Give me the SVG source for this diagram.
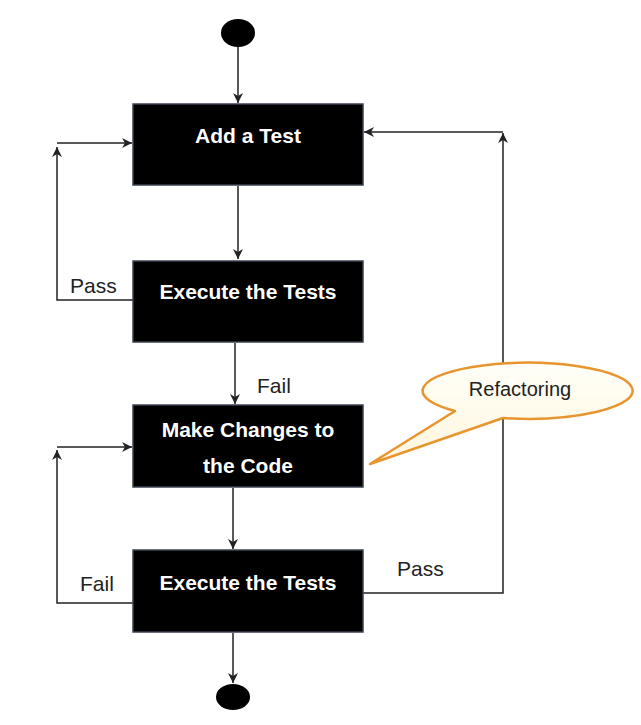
<svg xmlns="http://www.w3.org/2000/svg" width="641" height="725" viewBox="0 0 641 725">
<defs>
<style>
.box{fill:#000;stroke:#3c4250;stroke-width:1.5}
.bt{fill:#fff;font-family:"Liberation Sans",Arial,sans-serif;font-weight:bold;font-size:21px;text-anchor:middle}
.lbl{fill:#222;font-family:"Liberation Sans",Arial,sans-serif;font-size:21px}
.ln{fill:none;stroke:#222;stroke-width:1.5}
</style>
<marker id="ah" viewBox="0 0 10 10" refX="10" refY="5" markerWidth="10" markerHeight="10" markerUnits="userSpaceOnUse" orient="auto">
<path d="M0,0 L10,5 L0,10 L3,5 Z" fill="#222"/>
</marker>
<linearGradient id="cg" x1="0" y1="0" x2="0" y2="1">
<stop offset="0" stop-color="#fffff8"/>
<stop offset="1" stop-color="#fff6de"/>
</linearGradient>
</defs>
<rect width="641" height="725" fill="#fff"/>
<g id="connectors">
<line class="ln" x1="238" y1="46" x2="238" y2="103" marker-end="url(#ah)"/>
<line class="ln" x1="238" y1="186" x2="238" y2="259" marker-end="url(#ah)"/>
<line class="ln" x1="235" y1="343" x2="235" y2="404" marker-end="url(#ah)"/>
<line class="ln" x1="233" y1="488" x2="233" y2="549" marker-end="url(#ah)"/>
<line class="ln" x1="233" y1="633" x2="233" y2="683" marker-end="url(#ah)"/>
<polyline class="ln" points="133,300 57,300 57,147" marker-end="url(#ah)"/>
<polyline class="ln" points="57,143 132,143" marker-end="url(#ah)"/>
<polyline class="ln" points="133,603 57,603 57,450" marker-end="url(#ah)"/>
<polyline class="ln" points="57,447 132,447" marker-end="url(#ah)"/>
<polyline class="ln" points="363,593 503,593 503,133" marker-end="url(#ah)"/>
<polyline class="ln" points="503,132 364,132" marker-end="url(#ah)"/>
<text class="lbl" x="70" y="293">Pass</text>
<text class="lbl" x="257" y="393">Fail</text>
<text class="lbl" x="80" y="591">Fail</text>
<text class="lbl" x="397" y="576">Pass</text>
</g>
<g id="start"><ellipse cx="238" cy="33" rx="17" ry="14" fill="#000"/></g>
<g id="add-test"><rect class="box" x="133" y="104" width="230" height="81"/><text class="bt" x="248" y="143">Add a Test</text></g>
<g id="execute1"><rect class="box" x="133" y="261" width="230" height="81"/><text class="bt" x="248" y="299">Execute the Tests</text></g>
<g id="make-changes"><rect class="box" x="133" y="405" width="230" height="82"/><text class="bt" x="248" y="437">Make Changes to</text><text class="bt" x="248" y="473">the Code</text></g>
<g id="execute2"><rect class="box" x="133" y="550" width="230" height="82"/><text class="bt" x="248" y="590">Execute the Tests</text></g>
<g id="end"><ellipse cx="233" cy="697" rx="17" ry="13" fill="#000"/></g>
<g id="refactoring">
<path d="M455,411 L370,464 L503,418 A105,28 0 1 0 455,411 Z" fill="url(#cg)" stroke="#e8952f" stroke-width="2.5" stroke-linejoin="round"/>
<text x="520" y="396" font-family="Liberation Sans,Arial,sans-serif" font-size="20" fill="#222" text-anchor="middle">Refactoring</text>
</g>
</svg>
